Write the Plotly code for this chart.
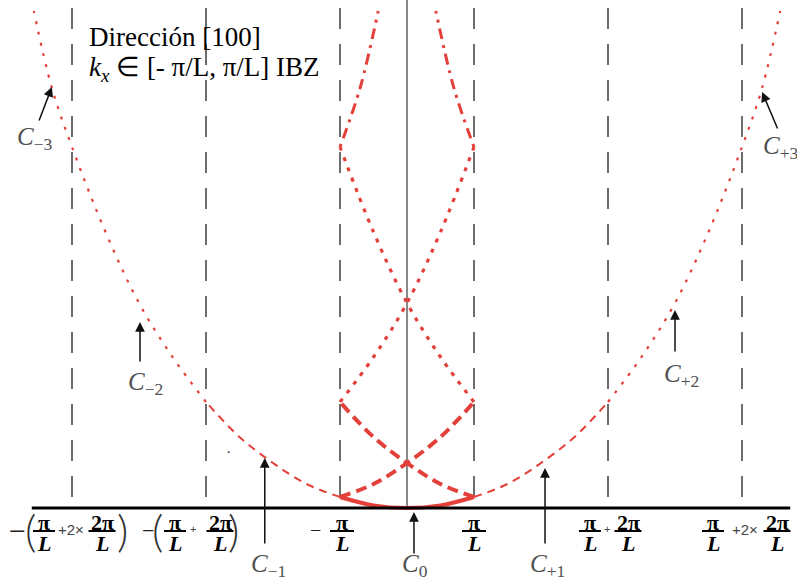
"""
Free-electron bands along [100]: extended-zone parabola and its folding
into the first Brillouin zone [-pi/L, pi/L].
"""

import plotly.graph_objects as go

# ---------------------------------------------------------------------------
# DATA (k in units of pi/L, energy in arbitrary units)
# ---------------------------------------------------------------------------

K_EXT = [0.0, 0.5, 1.0, 1.5, 2.0, 2.5, 3.0, 3.5, 4.0, 4.5, 5.0, 5.3, 5.57]
E_EXT = [0, 2.6, 11, 24, 45, 71, 106, 151, 205, 276, 361, 420, 497]

ZONE_EDGES = [-5, -3, -1, 1, 3, 5]          # dashed verticals
EDGE_TOP, EDGE_BOTTOM = 500, 3               # extent of dashed verticals
AXIS_TOP = 508

# labelled branches: name, arrow tip (k, E), arrow tail (k, E), label position (k, E)
BRANCH_NAMES = ["C<sub>−3</sub>", "C<sub>−2</sub>", "C<sub>−1</sub>", "C<sub>0</sub>",
                "C<sub>+1</sub>", "C<sub>+2</sub>", "C<sub>+3</sub>"]
ARROW_TIP = [(-5.30, 421), (-3.985, 186), (-2.123, 50), (0.104, -4),
             (2.06, 40), (4.0, 198), (5.30, 416)]
ARROW_TAIL = [(-5.50, 386), (-3.985, 145), (-2.123, -37), (0.104, -47),
              (2.06, -37), (4.0, 155), (5.54, 378)]
LABEL_POS = [(-5.55, 370), (-3.90, 125), (-2.06, -57), (0.12, -57),
             (2.10, -57), (4.10, 133), (5.58, 361)]

TICK_K = [-5, -3, -1, 1, 3, 5]

RED = "#e4403a"

# ---------------------------------------------------------------------------
# Helpers
# ---------------------------------------------------------------------------

def branch(kmin, kmax, shift=0.0, sign=1):
    """Points of the read parabola with kmin <= |k| <= kmax, shifted by a
    reciprocal lattice vector and mirrored by sign."""
    pts = [(k, e) for k, e in zip(K_EXT, E_EXT) if kmin <= k <= kmax]
    xs = [sign * (k - shift) for k, _ in pts]
    ys = [e for _, e in pts]
    return xs, ys


def add_curve(fig, xs, ys, dash, width):
    fig.add_trace(go.Scatter(
        x=xs, y=ys, mode="lines",
        line=dict(color=RED, width=width, dash=dash, shape="spline", smoothing=1.0),
        hoverinfo="skip", showlegend=False,
    ))


fig = go.Figure()

# --- zone boundaries and centre line ---
for k in ZONE_EDGES:
    fig.add_trace(go.Scatter(
        x=[k, k], y=[EDGE_TOP, EDGE_BOTTOM], mode="lines",
        line=dict(color="#3c3c3c", width=1.5, dash="21px,15px"),
        hoverinfo="skip", showlegend=False,
    ))
fig.add_trace(go.Scatter(
    x=[0, 0], y=[AXIS_TOP, 0], mode="lines",
    line=dict(color="#3a3a3a", width=1.2),
    hoverinfo="skip", showlegend=False,
))

# --- extended zone branches (thin) ---
for s in (1, -1):
    xs, ys = branch(1, 3, sign=s)
    add_curve(fig, xs, ys, "8px,6px", 2)
    xs, ys = branch(3, 6, sign=s)
    add_curve(fig, xs, ys, "3px,8px", 2.2)

# --- folded bands inside the first zone (thick) ---
REDUCED_STYLE = {1: ("11px,6px", 4), 2: ("4px,7px", 3.2), 3: ("3px,6px,11px,6px", 3)}
for n, (dash, width) in REDUCED_STYLE.items():
    for s in (1, -1):
        xs, ys = branch(2 * n - 1, 2 * n + 1, shift=2 * n, sign=s)
        add_curve(fig, xs, ys, dash, width)

# --- C0 ---
xl, yl = branch(0, 1, sign=-1)
xr, yr = branch(0, 1, sign=1)
add_curve(fig, xl[::-1] + xr[1:], yl[::-1] + yr[1:], "solid", 4)

# --- k axis ---
fig.add_shape(type="line", xref="x", yref="y", x0=-5.6, x1=5.72, y0=0, y1=0,
              line=dict(color="black", width=3))

# ---------------------------------------------------------------------------
# Annotations
# ---------------------------------------------------------------------------
SERIF = "Liberation Serif"

for name, tip, tail, pos in zip(BRANCH_NAMES, ARROW_TIP, ARROW_TAIL, LABEL_POS):
    fig.add_annotation(
        x=tip[0], y=tip[1], ax=tail[0], ay=tail[1], axref="x", ayref="y",
        xref="x", yref="y", text="", showarrow=True,
        arrowhead=2, arrowsize=1.3, arrowwidth=1.5, arrowcolor="#111111", standoff=0,
    )
    fig.add_annotation(
        x=pos[0], y=pos[1], xref="x", yref="y", showarrow=False,
        text="<i>C</i>" + name[1:], font=dict(family=SERIF, size=25, color="#505050"),
        xanchor="center", yanchor="middle",
    )

fig.add_annotation(x=87 / 797, y=1 - 37 / 582, xref="paper", yref="paper",
                   text="Dirección [100]", showarrow=False, xanchor="left",
                   yanchor="middle", font=dict(family=SERIF, size=27, color="black"))
fig.add_annotation(x=87 / 797, y=1 - 69 / 582, xref="paper", yref="paper",
                   text="<i>k</i><sub><i>x</i></sub> ∈ [- π/L, π/L] IBZ", showarrow=False,
                   xanchor="left", yanchor="middle",
                   font=dict(family=SERIF, size=27, color="black"))

fig.add_annotation(x=-2.66, y=60, xref="x", yref="y", text=".", showarrow=False,
                   font=dict(family=SERIF, size=14, color="black"))

# --- tick labels built from pieces: (kind, text, pixel offset from tick) ---
TICK_PIECES = {
    -5: [("sign", "−", -55, 30), ("paren", "(", -42, 0), ("frac", "π", -28, 22),
         ("op", "+2×", -1, 15), ("frac", "2π", 30, 27), ("paren", ")", 50, 0)],
    -3: [("sign", "−", -58, 22), ("paren", "(", -49, 0), ("frac", "π", -31, 22),
         ("op", "+", -13, 11), ("frac", "2π", 14, 27), ("paren", ")", 27, 0)],
    -1: [("sign", "−", -25, 20), ("frac", "π", 2, 24)],
    1: [("frac", "π", 0, 24)],
    3: [("frac", "π", -18, 22), ("op", "+", -1, 11), ("frac", "2π", 20, 27)],
    5: [("frac", "π", -29, 22), ("op", "+2×", 3, 15), ("frac", "2π", 35, 27)],
}

for k in TICK_K:
    for kind, txt, off, size in TICK_PIECES[k]:
        if kind == "frac":
            fig.add_annotation(x=k, y=0, xref="x", yref="y", showarrow=False,
                               text=f"<b>{txt}</b>", xshift=off, yshift=-14,
                               font=dict(family=SERIF, size=22, color="black"))
            fig.add_annotation(x=k, y=0, xref="x", yref="y", showarrow=False,
                               text="<b><i>L</i></b>", xshift=off, yshift=-35,
                               font=dict(family=SERIF, size=22, color="black"))
            fig.add_shape(type="line", xref="x", yref="y", xsizemode="pixel",
                          xanchor=k, x0=off - size / 2, x1=off + size / 2,
                          y0=-23, y1=-23, line=dict(color="black", width=2))
        elif kind == "paren":
            fig.add_annotation(x=k, y=0, xref="x", yref="y", showarrow=False,
                               text=txt, xshift=off, yshift=-22,
                               font=dict(family="Lato", size=44, color="#333333",
                                         weight=300))
        elif kind == "sign":
            fig.add_annotation(x=k, y=0, xref="x", yref="y", showarrow=False,
                               text=txt, xshift=off, yshift=-22,
                               font=dict(family=SERIF, size=size, color="#222222"))
        else:
            fig.add_annotation(x=k, y=0, xref="x", yref="y", showarrow=False,
                               text=txt, xshift=off, yshift=-21,
                               font=dict(family="Liberation Sans", size=size, color="#444444"))

# ---------------------------------------------------------------------------
# Layout
# ---------------------------------------------------------------------------
fig.update_layout(
    width=797, height=582,
    margin=dict(l=0, r=0, t=0, b=0),
    paper_bgcolor="white", plot_bgcolor="white",
    xaxis=dict(range=[-407 / 67, 390 / 67], visible=False, fixedrange=True),
    yaxis=dict(range=[-74, 508], visible=False, fixedrange=True),
    showlegend=False,
)

fig.write_html("out.html", config=dict(displayModeBar=False),
               post_script="document.body.style.margin='0';")
